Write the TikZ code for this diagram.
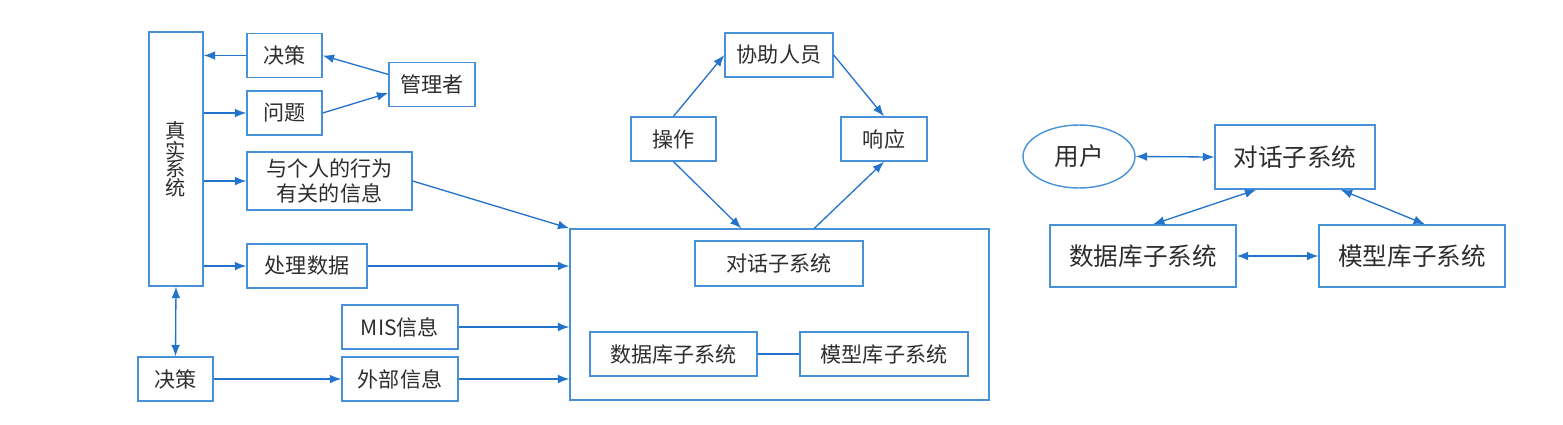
\documentclass[tikz,border=0pt]{standalone}
\usepackage{fontspec}
\setmainfont{Noto Sans CJK SC}
\usepackage{tikz}
\usetikzlibrary{positioning, arrows.meta, shapes.geometric}
\definecolor{boxblue}{RGB}{70,145,215}
\definecolor{lineblue}{RGB}{35,115,205}
\definecolor{ink}{RGB}{45,45,45}

\begin{document}
\begin{tikzpicture}[x=0.02cm, y=-0.02cm, font=\fontsize{12}{14}\selectfont, text=ink]
    \tikzset{cell/.style={draw=boxblue, line width=0.8pt, inner sep=0pt, align=center, minimum height=0.88cm},
             big/.style={cell, font=\fontsize{14}{16}\selectfont, minimum height=1.24cm},
             arr/.style={draw=lineblue, line width=0.75pt, -{Latex[length=6.5pt, width=5pt]}},
             biarr/.style={arr, {Latex[length=6.5pt, width=5pt]}-{Latex[length=6.5pt, width=5pt]}}}
    \useasboundingbox (0,0) rectangle (1563,424);

    % left part
    \node[cell, minimum width=1.08cm, minimum height=5.08cm, font=\fontsize{11.5}{10.5}\selectfont] (real) at (176,159) {真\\实\\系\\统};
    \node[cell, minimum width=1.5cm] (dec1) at (284.5,55.5) {决策};
    \node[cell, minimum width=1.5cm] (prob) at (284.5,113) {问题};
    \node[cell, minimum width=1.72cm] (mgr) at (432,84.5) {管理者};
    \node[cell, minimum width=3.3cm, minimum height=1.16cm] (info) at (329.5,181) {与个人的行为\\有关的信息};
    \node[cell, minimum width=2.4cm] (proc) at (307,266) {处理数据};
    \node[cell, minimum width=2.32cm] (mis) at (400,327) {MIS信息};
    \node[cell, minimum width=1.5cm] (dec2) at (175.5,379) {决策};
    \node[cell, minimum width=2.32cm] (ext) at (400,379) {外部信息};

    % DSS box
    \node[cell, minimum width=8.38cm, minimum height=3.42cm] (dss) at (779.5,314.5) {};
    \node[cell, minimum width=3.36cm, minimum height=0.9cm] (dlg) at (779,263.5) {对话子系统};
    \node[cell, minimum width=3.34cm] (db) at (673.5,354) {数据库子系统};
    \node[cell, minimum width=3.36cm] (mb) at (884,354) {模型库子系统};
    \node[cell, minimum width=1.7cm] (op) at (673.5,139) {操作};
    \node[cell, minimum width=2.16cm] (help) at (779,55) {协助人员};
    \node[cell, minimum width=1.72cm] (resp) at (884,139) {响应};

    % right part
    \node[ellipse, draw=boxblue, line width=0.8pt, inner sep=0pt, minimum width=2.24cm, minimum height=1.26cm,
          font=\fontsize{14}{16}\selectfont] (user) at (1079,156.5) {用户};
    \node[big, minimum width=3.2cm, minimum height=1.28cm] (dlgR) at (1295,157) {对话子系统};
    \node[big, minimum width=3.72cm] (dbR) at (1143,256) {数据库子系统};
    \node[big, minimum width=3.72cm] (mbR) at (1412,256) {模型库子系统};

    \draw[arr] (dec1.west) -- (dec1.west -| real.east);
    \draw[arr] (prob.west -| real.east) -- (prob.west);
    \draw[arr] (mgr.167) -- (dec1.east);
    \draw[arr] (prob.east) -- (mgr.191);
    \draw[arr] (info.west -| real.east) -- (info.west);
    \draw[arr] (proc.west -| real.east) -- (proc.west);
    \draw[biarr] (dec2.north) -- (real.south);
    \draw[arr] (dec2.east) -- (ext.west);
    \draw[arr] (info.east) -- (dss.north west);
    \draw[arr] (proc.east) -- (proc.east -| dss.west);
    \draw[arr] (mis.east) -- (mis.east -| dss.west);
    \draw[arr] (ext.east) -- (ext.east -| dss.west);
    \draw[draw=lineblue, line width=0.75pt] (db.east) -- (mb.west);
    \draw[arr] (op.north) -- (help.west);
    \draw[arr] (help.east) -- (resp.north);
    \draw[arr] (op.south) -- ([xshift=3.44cm]dss.north west);
    \draw[arr] ([xshift=4.9cm]dss.north west) -- (resp.south);

    \draw[biarr] (user.east) -- (dlgR.west);
    \draw[biarr] ([xshift=0.84cm]dlgR.south west) -- ([xshift=0.2cm]dbR.north);
    \draw[biarr] ([xshift=-0.7cm]dlgR.south east) -- ([xshift=0.26cm]mbR.north);
    \draw[biarr] (dbR.east) -- (mbR.west);
\end{tikzpicture}
\end{document}
